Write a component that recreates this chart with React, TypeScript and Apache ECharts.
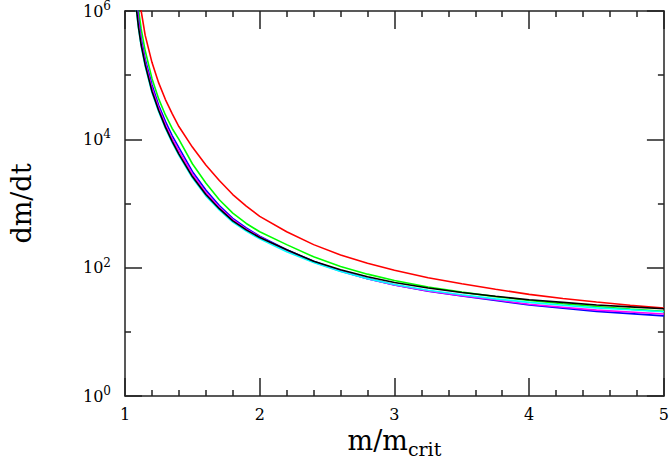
import React, { useEffect, useRef } from "react";
import * as echarts from "echarts";

// m / m_crit sample positions
const mRatio = [1.08, 1.1, 1.12, 1.15, 1.2, 1.25, 1.3, 1.35, 1.4, 1.5, 1.6, 1.7, 1.8, 1.9, 2.0, 2.2, 2.4, 2.6, 2.8, 3.0, 3.25, 3.5, 3.75, 4.0, 4.25, 4.5, 4.75, 5.0];

// log10(dm/dt), one array per curve
const redLog = [7.0, 6.45, 6.0, 5.62, 5.2, 4.88, 4.62, 4.4, 4.2, 3.88, 3.6, 3.36, 3.14, 2.96, 2.8, 2.56, 2.36, 2.2, 2.07, 1.96, 1.845, 1.75, 1.665, 1.585, 1.52, 1.465, 1.415, 1.37];
const greenLog = [6.6, 6.03, 5.72, 5.38, 4.95, 4.63, 4.38, 4.17, 4.0, 3.62, 3.32, 3.06, 2.85, 2.69, 2.56, 2.36, 2.17, 2.02, 1.9, 1.8, 1.7, 1.62, 1.55, 1.49, 1.44, 1.395, 1.355, 1.32];
const blueLog = [6.35, 5.88, 5.57, 5.25, 4.85, 4.53, 4.28, 4.06, 3.87, 3.5, 3.21, 2.97, 2.77, 2.62, 2.49, 2.28, 2.1, 1.95, 1.83, 1.73, 1.635, 1.56, 1.49, 1.42, 1.37, 1.32, 1.285, 1.25];
const magentaLog = [6.25, 5.82, 5.52, 5.2, 4.8, 4.49, 4.23, 4.01, 3.82, 3.46, 3.17, 2.94, 2.75, 2.6, 2.48, 2.27, 2.09, 1.945, 1.83, 1.73, 1.64, 1.565, 1.5, 1.43, 1.385, 1.34, 1.31, 1.28];
const cyanLog = [6.1, 5.73, 5.45, 5.14, 4.73, 4.43, 4.17, 3.95, 3.75, 3.4, 3.12, 2.9, 2.71, 2.57, 2.45, 2.25, 2.08, 1.94, 1.83, 1.74, 1.65, 1.58, 1.515, 1.46, 1.415, 1.375, 1.345, 1.315];
const blackLog = [6.12, 5.75, 5.47, 5.16, 4.75, 4.45, 4.19, 3.97, 3.77, 3.42, 3.14, 2.92, 2.73, 2.59, 2.47, 2.28, 2.1, 1.97, 1.86, 1.77, 1.685, 1.615, 1.555, 1.5, 1.46, 1.42, 1.39, 1.36];

const curves = [
  { name: "red", color: "#ff0000", values: redLog },
  { name: "green", color: "#00ff00", values: greenLog },
  { name: "blue", color: "#0000ff", values: blueLog },
  { name: "magenta", color: "#ff00ff", values: magentaLog },
  { name: "cyan", color: "#00ffff", values: cyanLog },
  { name: "black", color: "#000000", values: blackLog },
];

const xTicks = [1, 2, 3, 4, 5];
const yExponents = [0, 2, 4, 6];

const FONT = "DejaVu Serif";
const AXIS_COLOR = "#222";

export default function App() {
  const ref = useRef<HTMLDivElement>(null);
  useEffect(() => {
    if (!ref.current) return;
    const chart = echarts.init(ref.current, null, { renderer: "svg" });
    const axisLine = { show: true, onZero: false, lineStyle: { color: AXIS_COLOR, width: 1.5 } };
    const xCommon = {
      type: "value",
      min: xTicks[0],
      max: xTicks[xTicks.length - 1],
      interval: 1,
      axisLine,
      axisTick: { show: true, inside: true, length: 18, lineStyle: { color: AXIS_COLOR, width: 1.5 } },
      minorTick: { show: true, splitNumber: 5, length: 6, lineStyle: { color: AXIS_COLOR, width: 1.5 } },
      splitLine: { show: false },
      minorSplitLine: { show: false },
    };
    const yCommon = {
      type: "value",
      min: yExponents[0],
      max: yExponents[yExponents.length - 1],
      interval: 2,
      axisLine,
      axisTick: { show: true, inside: true, length: 17, lineStyle: { color: AXIS_COLOR, width: 1.5 } },
      minorTick: { show: true, splitNumber: 2, length: 6, lineStyle: { color: AXIS_COLOR, width: 1.5 } },
      splitLine: { show: false },
      minorSplitLine: { show: false },
    };
    chart.setOption({
      animation: false,
      backgroundColor: "#ffffff",
      grid: { left: 116, right: 6, top: 11, bottom: 57, containLabel: false },
      xAxis: [
        {
          ...xCommon,
          position: "bottom",
          axisLabel: { show: true, margin: 10, fontFamily: FONT, fontSize: 16, color: "#000" },
          name: "{a|m/m}{b|crit}",
          nameLocation: "middle",
          nameGap: 24,
          nameTextStyle: {
            fontFamily: FONT,
            rich: {
              a: { fontFamily: FONT, fontSize: 27, color: "#000" },
              b: { fontFamily: FONT, fontSize: 19, color: "#000", verticalAlign: "top", padding: [16, 0, 0, 0] },
            },
          },
        },
        { ...xCommon, position: "top", axisLabel: { show: false } },
      ],
      yAxis: [
        {
          ...yCommon,
          position: "left",
          axisLabel: {
            show: true,
            margin: 14,
            formatter: (v: number) => `{b|10}{s|${v}}`,
            rich: {
              b: { fontFamily: FONT, fontSize: 16, color: "#000" },
              s: { fontFamily: FONT, fontSize: 12, color: "#000", verticalAlign: "bottom", padding: [0, 0, 10, 0] },
            },
          },
          name: "dm/dt",
          nameLocation: "middle",
          nameRotate: 90,
          nameGap: 90,
          nameTextStyle: { fontFamily: FONT, fontSize: 27, color: "#000" },
        },
        { ...yCommon, position: "right", axisLabel: { show: false } },
      ],
      series: curves.map((c) => ({
        name: c.name,
        type: "line",
        xAxisIndex: 0,
        yAxisIndex: 0,
        data: mRatio.map((m, i) => [m, c.values[i]]),
        showSymbol: false,
        smooth: false,
        clip: true,
        lineStyle: { color: c.color, width: 1.6 },
      })),
    });
    return () => chart.dispose();
  }, []);
  return (
    <div
      ref={ref}
      style={{ position: "fixed", left: 0, top: 0, width: 672, height: 463 }}
    />
  );
}
